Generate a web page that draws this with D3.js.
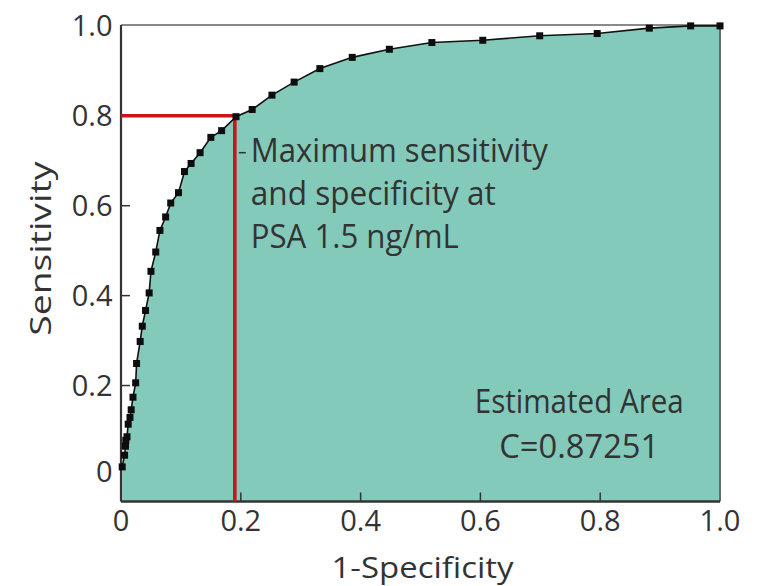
<!DOCTYPE html>
<html>
<head>
    <meta charset="utf-8">
    <title>ROC curve - PSA</title>
    <script src="https://cdn.jsdelivr.net/npm/d3@7"></script>
    <style>
        body { margin: 0; background: #fff; }
        text { font-family: "Open Sans", Roboto, sans-serif; font-weight: 400; fill: #333; }
    </style>
</head>
<body>
<div id="chart"></div>
<script>

    // ROC points
    var oneMinusSpec = [0.002, 0.006, 0.0075, 0.008, 0.010, 0.012, 0.015, 0.017, 0.020, 0.0245,
        0.026, 0.032, 0.0355, 0.041, 0.047, 0.050, 0.058, 0.065, 0.0745, 0.083,
        0.096, 0.106, 0.117, 0.132, 0.150, 0.168, 0.192, 0.219, 0.252, 0.289,
        0.332, 0.386, 0.448, 0.519, 0.604, 0.699, 0.795, 0.882, 0.951, 1.0];
    var sensitivity = [0.019, 0.045, 0.065, 0.078, 0.086, 0.114, 0.129, 0.146, 0.174, 0.206,
        0.249, 0.298, 0.332, 0.367, 0.406, 0.454, 0.497, 0.545, 0.575, 0.606,
        0.629, 0.676, 0.694, 0.718, 0.752, 0.767, 0.798, 0.814, 0.846, 0.875,
        0.905, 0.930, 0.948, 0.963, 0.968, 0.978, 0.983, 0.995, 1.0, 1.0];

    var xTicks = [0, 0.2, 0.4, 0.6, 0.8, 1.0];
    var xTickLabels = ["0", "0.2", "0.4", "0.6", "0.8", "1.0"];
    var yTicks = [0, 0.2, 0.4, 0.6, 0.8, 1.0];
    var yTickLabels = ["0", "0.2", "0.4", "0.6", "0.8", "1.0"];

    // best cut-off (PSA 1.5 ng/mL)
    var cutoff = { x: 0.19, y: 0.80 };
    var noteLines = ["Maximum sensitivity", "and specificity at", "PSA 1.5 ng/mL"];
    var noteWidths = [297, 245, 208];
    var areaLines = ["Estimated Area", "C=0.87251"];
    var areaWidths = [209, 160];

    var points = oneMinusSpec.map(function (d, i) { return { x: d, y: sensitivity[i] }; });

    // dimensions & margins
    var margin = { top: 25, right: 40, bottom: 84.5, left: 121 },
        width = 760 - margin.left - margin.right,
        height = 586 - margin.top - margin.bottom;

    var svg = d3.select("#chart")
        .append("svg")
        .attr("width", 760)
        .attr("height", 586)
        .append("g")
        .attr("transform", "translate(" + margin.left + "," + margin.top + ")");

    var x = d3.scaleLinear().domain([0, 1]).range([0, width]);
    var y = d3.scaleLinear().domain([-0.058, 1.002]).range([height, 0]);

    // shaded area under the curve
    var area = d3.area()
        .x(function (d) { return x(d.x); })
        .y0(height)
        .y1(function (d) { return y(d.y); });

    svg.append("path")
        .datum(points)
        .attr("d", area)
        .attr("fill", "#84cabb");

    // frame: top & right light
    svg.append("line").attr("x1", 0).attr("x2", width).attr("y1", 0).attr("y2", 0)
        .attr("stroke", "#8a8a8a").attr("stroke-width", 2);
    svg.append("line").attr("x1", width).attr("x2", width).attr("y1", 0).attr("y2", height)
        .attr("stroke", "#6a6a6a").attr("stroke-width", 2);

    // inward ticks
    svg.selectAll(".ytick")
        .data(yTicks.filter(function (d) { return d > 0 && d < 1; }))
        .enter().append("line")
        .attr("x1", 0).attr("x2", 9)
        .attr("y1", function (d) { return y(d); })
        .attr("y2", function (d) { return y(d); })
        .attr("stroke", "#333").attr("stroke-width", 1.5);

    svg.selectAll(".xtick")
        .data(xTicks.filter(function (d) { return d > 0 && d < 1; }))
        .enter().append("line")
        .attr("x1", function (d) { return x(d); })
        .attr("x2", function (d) { return x(d); })
        .attr("y1", height).attr("y2", height - 9)
        .attr("stroke", "#333").attr("stroke-width", 1.5);

    // left & bottom axis lines
    svg.append("line").attr("x1", 0).attr("x2", 0).attr("y1", 0).attr("y2", height)
        .attr("stroke", "#333").attr("stroke-width", 2.2);
    svg.append("line").attr("x1", 0).attr("x2", width).attr("y1", height).attr("y2", height)
        .attr("stroke", "#333").attr("stroke-width", 2.4);

    // tick labels
    svg.selectAll(".ylab")
        .data(yTicks)
        .enter().append("text")
        .attr("x", -8.5)
        .attr("y", function (d) { return d === 0 ? y(d) - 4 : y(d); })
        .attr("dy", "0.36em")
        .attr("text-anchor", "end")
        .style("font-size", "29px")
        .text(function (d, i) { return yTickLabels[i]; });

    svg.selectAll(".xlab")
        .data(xTicks)
        .enter().append("text")
        .attr("x", function (d) { return x(d); })
        .attr("y", height + 29.5)
        .attr("text-anchor", "middle")
        .style("font-size", "29px")
        .text(function (d, i) { return xTickLabels[i]; });

    // axis titles
    svg.append("text")
        .attr("x", x(0.5) + 2)
        .attr("y", height + 76)
        .attr("text-anchor", "middle")
        .attr("textLength", 182)
        .attr("lengthAdjust", "spacingAndGlyphs")
        .style("font-size", "29px")
        .text("1-Specificity");

    svg.append("text")
        .attr("transform", "translate(" + (51 - margin.left) + "," + (y(0.5) - 2) + ") rotate(-90)")
        .attr("text-anchor", "middle")
        .attr("textLength", 174)
        .attr("lengthAdjust", "spacingAndGlyphs")
        .style("font-size", "29px")
        .text("Sensitivity");

    // cut-off lines
    svg.append("path")
        .attr("d", "M0," + y(cutoff.y) + "H" + x(cutoff.x) + "V" + height)
        .attr("fill", "none")
        .attr("stroke", "#c8161d")
        .attr("stroke-width", 3.6);

    // ROC curve + markers
    var line = d3.line()
        .x(function (d) { return x(d.x); })
        .y(function (d) { return y(d.y); });

    svg.append("path")
        .datum(points)
        .attr("d", line)
        .attr("fill", "none")
        .attr("stroke", "#111")
        .attr("stroke-width", 1.6);

    svg.selectAll(".pt")
        .data(points)
        .enter().append("rect")
        .attr("x", function (d) { return x(d.x) - 3.5; })
        .attr("y", function (d) { return y(d.y) - 3.5; })
        .attr("width", 7)
        .attr("height", 7)
        .attr("fill", "#0d0d0d");

    // annotation
    var noteX = x(cutoff.x) + 16;
    var noteY = 161.7 - margin.top;
    svg.append("line")
        .attr("x1", x(cutoff.x) + 4).attr("x2", x(cutoff.x) + 11)
        .attr("y1", noteY - 9).attr("y2", noteY - 9)
        .attr("stroke", "#333").attr("stroke-width", 1.5);

    svg.selectAll(".note")
        .data(noteLines)
        .enter().append("text")
        .attr("x", noteX)
        .attr("y", function (d, i) { return noteY + i * 43.3; })
        .attr("textLength", function (d, i) { return noteWidths[i]; })
        .attr("lengthAdjust", "spacingAndGlyphs")
        .style("font-size", "32px")
        .text(function (d) { return d; });

    svg.selectAll(".areaNote")
        .data(areaLines)
        .enter().append("text")
        .attr("x", x(0.765))
        .attr("y", function (d, i) { return 413.3 - margin.top + i * 45; })
        .attr("text-anchor", "middle")
        .attr("textLength", function (d, i) { return areaWidths[i]; })
        .attr("lengthAdjust", "spacingAndGlyphs")
        .style("font-size", "32px")
        .text(function (d) { return d; });

</script>
</body>
</html>
